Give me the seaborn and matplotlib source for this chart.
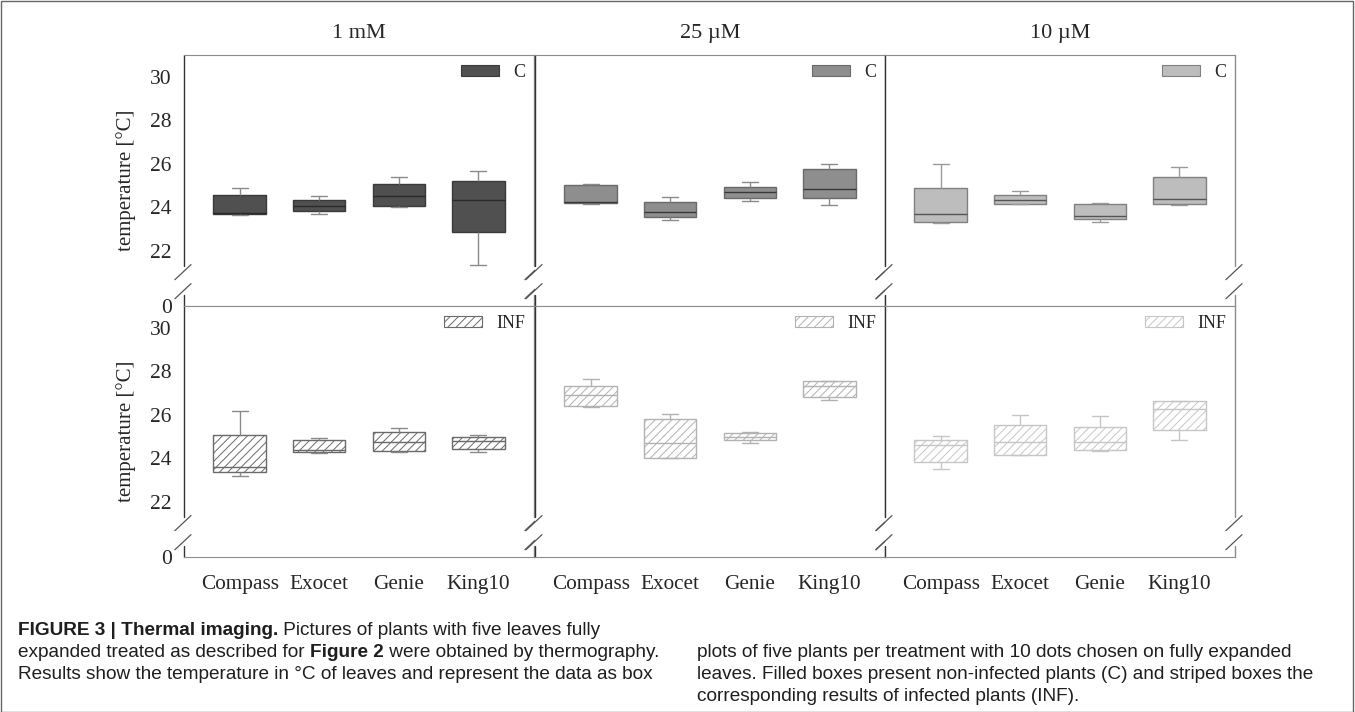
import matplotlib
matplotlib.use("Agg")
import matplotlib.pyplot as plt
import matplotlib.patches as mpatches
import seaborn as sns
import pandas as pd
import numpy as np


# =========================================================
# DATA  (five-number summaries:
#        low whisker, Q1, median, Q3, high whisker)
# =========================================================

concentrations = ["1 mM", "25 µM", "10 µM"]
cultivars = ["Compass", "Exocet", "Genie", "King10"]
groups = ["C", "INF"]

c_1mM = [
    [23.65, 23.67, 23.72, 24.55, 24.90],
    [23.67, 23.83, 24.06, 24.32, 24.52],
    [24.00, 24.04, 24.52, 25.08, 25.39],
    [21.34, 22.85, 24.35, 25.19, 25.68],
]
c_25uM = [
    [24.17, 24.19, 24.26, 25.01, 25.05],
    [23.43, 23.53, 23.76, 24.22, 24.45],
    [24.30, 24.41, 24.68, 24.94, 25.16],
    [24.10, 24.44, 24.84, 25.76, 25.99],
]
c_10uM = [
    [23.26, 23.33, 23.70, 24.87, 25.99],
    [24.15, 24.16, 24.35, 24.56, 24.73],
    [23.33, 23.46, 23.58, 24.16, 24.19],
    [24.12, 24.13, 24.38, 25.39, 25.85],
]
inf_1mM = [
    [23.17, 23.35, 23.58, 25.07, 26.15],
    [24.25, 24.27, 24.36, 24.84, 24.95],
    [24.27, 24.33, 24.77, 25.21, 25.41],
    [24.31, 24.42, 24.80, 25.00, 25.07],
]
inf_25uM = [
    [26.37, 26.38, 26.93, 27.32, 27.66],
    [24.00, 24.01, 24.68, 25.81, 26.04],
    [24.68, 24.82, 25.00, 25.15, 25.21],
    [26.66, 26.83, 27.34, 27.53, 27.55],
]
inf_10uM = [
    [23.49, 23.81, 24.63, 24.84, 25.03],
    [24.15, 24.17, 24.77, 25.55, 25.99],
    [24.34, 24.36, 24.74, 25.44, 25.96],
    [24.82, 25.29, 26.25, 26.61, 26.63],
]

y_ticks = [0, 22, 24, 26, 28, 30]

caption_left = [
    [("FIGURE 3 | Thermal imaging.", "bold"), (" Pictures of plants with five leaves fully", "normal")],
    [("expanded treated as described for ", "normal"), ("Figure 2", "bold"),
     (" were obtained by thermography.", "normal")],
    [("Results show the temperature in °C of leaves and represent the data as box", "normal")],
]
caption_right = [
    [("plots of five plants per treatment with 10 dots chosen on fully expanded", "normal")],
    [("leaves. Filled boxes present non-infected plants (C) and striped boxes the", "normal")],
    [("corresponding results of infected plants (INF).", "normal")],
]

summaries = {
    ("C", "1 mM"): c_1mM, ("C", "25 µM"): c_25uM, ("C", "10 µM"): c_10uM,
    ("INF", "1 mM"): inf_1mM, ("INF", "25 µM"): inf_25uM, ("INF", "10 µM"): inf_10uM,
}

rows = []
for (grp, conc), boxes in summaries.items():
    for cult, vals in zip(cultivars, boxes):
        for v in vals:
            rows.append({"group": grp, "conc": conc, "cultivar": cult, "temp": v})
df = pd.DataFrame(rows)


# =========================================================
# STYLE
# =========================================================

sns.set_style("white")
plt.rcParams["font.family"] = ["Liberation Serif", "DejaVu Serif"]
plt.rcParams["hatch.linewidth"] = 0.7

face = {"C": ["#505050", "#8e8e8e", "#bdbdbd"], "INF": ["white"] * 3}
edge = {"C": ["#3a3a3a", "#6a6a6a", "#808080"], "INF": ["#6a6a6a", "#b2b2b2", "#c6c6c6"]}
median_col = {"C": ["#2a2a2a", "#383838", "#555555"], "INF": ["#6a6a6a", "#b2b2b2", "#c6c6c6"]}
whisk_col = {"C": ["#8a8a8a", "#8a8a8a", "#9a9a9a"], "INF": ["#8a8a8a", "#b2b2b2", "#c6c6c6"]}

BREAK = 21.0
ZERO_AT = 19.46


def fwd(v):
    v = np.asarray(v, dtype=float)
    return np.where(v >= BREAK, v, ZERO_AT + v * (BREAK - ZERO_AT) / BREAK)


def inv(t):
    t = np.asarray(t, dtype=float)
    return np.where(t >= BREAK, t, (t - ZERO_AT) * BREAK / (BREAK - ZERO_AT))


W, H = 1355, 712
fig = plt.figure(figsize=(W / 100, H / 100), dpi=100)

cap_ax = fig.add_axes([0, 0, 1, 1])
cap_ax.axis("off")

col_left = [184, 535, 885]
row_top = [55, 306]
pw, ph = 350, 251


def broken_spines(ax, left_color, right_color):
    lo, hi = 0.062, 0.138
    for x, col in ((1, right_color), (0, left_color)):
        ax.plot([x, x], [hi + 0.02, 1], transform=ax.transAxes, color=col, lw=1, clip_on=False)
        ax.plot([x, x], [0, lo - 0.02], transform=ax.transAxes, color=col, lw=1, clip_on=False)
        for yc in (lo, hi):
            ax.plot([x - 0.026, x + 0.02], [yc - 0.033, yc + 0.027], transform=ax.transAxes,
                    color="#555555", lw=0.9, clip_on=False)


for r, grp in enumerate(groups):
    for c, conc in enumerate(concentrations):
        ax = fig.add_axes([col_left[c] / W, 1 - (row_top[r] + ph) / H, pw / W, ph / H])
        sub = df[(df["group"] == grp) & (df["conc"] == conc)]
        sns.boxplot(data=sub, x="cultivar", y="temp", order=cultivars, ax=ax,
                    whis=(0, 100), width=0.66, color=face[grp][c],
                    linecolor=edge[grp][c], linewidth=1.0,
                    medianprops={"color": median_col[grp][c]},
                    whiskerprops={"color": whisk_col[grp][c]},
                    capprops={"color": whisk_col[grp][c]},
                    capwidths=0.2)
        if grp == "INF":
            for p in ax.patches:
                p.set_facecolor("white")
                p.set_edgecolor(edge[grp][c])
                p.set_hatch("////")

        ax.set_yscale("function", functions=(fwd, inv))
        ax.set_ylim(0, 31.0)
        ax.set_xlim(-0.7, 3.7)
        ax.set_yticks(y_ticks)
        ax.set_xlabel("")
        ax.set_ylabel("")

        for s in ("left", "right"):
            ax.spines[s].set_visible(False)
        ax.spines["top"].set_color("#8c8c8c")
        ax.spines["bottom"].set_color("#8c8c8c")
        broken_spines(ax, "#333333", "#8c8c8c")

        ax.tick_params(axis="y", length=0, pad=9, labelsize=15.5)
        if c == 0:
            ax.set_ylabel("temperature [°C]", fontsize=15, labelpad=10)
        else:
            ax.set_yticklabels([])

        if r == 1:
            ax.tick_params(axis="x", length=4, color="#777777", pad=9, labelsize=15.3)
        else:
            ax.tick_params(axis="x", length=0, labelbottom=False)
            ax.set_title(conc, fontsize=16, pad=12)

        handle = mpatches.Patch(facecolor=face[grp][c], edgecolor=edge[grp][c],
                                hatch="////" if grp == "INF" else None, lw=0.8)
        ax.legend([handle], [grp], loc="upper right", frameon=False, fontsize=13,
                  handlelength=2.1, handleheight=0.5, handletextpad=0.8,
                  borderaxespad=0.3, borderpad=0.2)


# =========================================================
# CAPTION
# =========================================================

def caption_line(x, y, pieces):
    prev = None
    for text, weight in pieces:
        kw = dict(fontsize=13.7, fontweight=weight, color="#1e1e1e",
                  family=["Liberation Sans", "DejaVu Sans"], va="bottom", ha="left")
        if prev is None:
            prev = cap_ax.annotate(text, xy=(x / W, 1 - y / H), xycoords="figure fraction", **kw)
        else:
            prev = cap_ax.annotate(text, xy=(1, 0), xycoords=prev, **kw)


for i, line in enumerate(caption_left):
    caption_line(18, 639 + 22 * i, line)
for i, line in enumerate(caption_right):
    caption_line(697, 661 + 22 * i, line)

fig.add_artist(mpatches.Rectangle((0.5 / W, 0.5 / H), (W - 3) / W, (H - 1.5) / H,
                                  transform=fig.transFigure, fill=False,
                                  edgecolor="#666666", lw=1))

fig.savefig("out.png", dpi=100)
